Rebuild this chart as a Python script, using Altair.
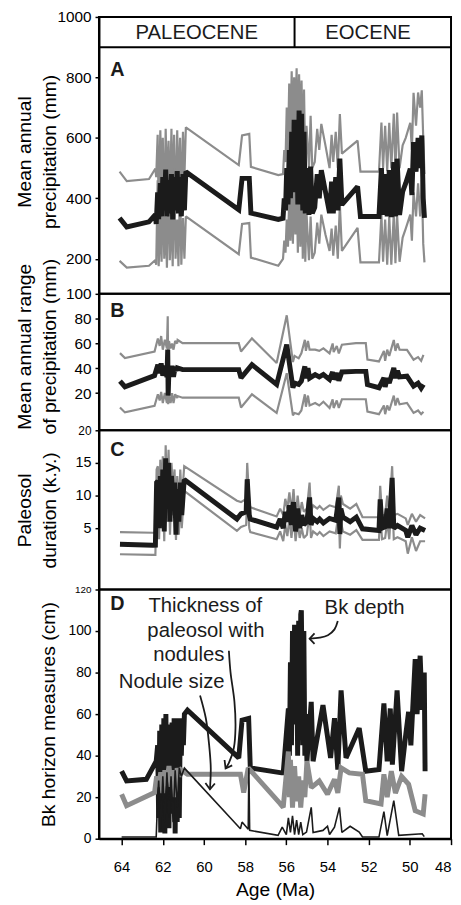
import altair as alt
import pandas as pd

BLACK = "#1b1b1b"
GRAY = "#8c8c8c"
FONT = "Liberation Sans"

AGE_DOMAIN = [65.1, 48.0]
AGE_TICKS = [64, 62, 60, 58, 56, 54, 52, 50, 48]

# ---------------- Panel A : mean annual precipitation (mm) ----------------
A_age = [64.1, 63.75, 62.67, 62.36,
         62.32, 62.25, 62.2, 62.12, 62.06, 62.0, 61.93, 61.86, 61.8, 61.72, 61.66,
         61.58, 61.52, 61.45, 61.38, 61.3, 61.24, 61.16, 61.1, 61.02, 60.95, 60.88,
         58.31, 58.15, 57.8, 57.72, 56.39,
         56.16, 56.1, 56.04, 55.98, 55.92, 55.86, 55.8, 55.74, 55.68, 55.62,
         55.56, 55.5, 55.44, 55.38, 55.32, 55.26, 55.2, 55.14, 55.08, 55.02,
         54.9, 54.82, 54.74, 54.62, 54.5, 54.4, 54.3, 54.1, 53.9, 53.8,
         53.72, 53.6, 53.5, 53.4, 53.3, 52.54, 52.4, 51.5, 51.38, 51.3,
         51.2, 51.1, 51.0, 50.9, 50.78, 50.7, 50.62, 50.5, 50.35, 50.2,
         49.98, 49.9, 49.82, 49.7, 49.6, 49.5, 49.42, 49.35, 49.29]
A_mean = [335, 305, 322, 346,
          315, 420, 330, 450, 340, 470, 360, 495, 340, 460, 350,
          480, 330, 470, 360, 490, 350, 470, 340, 480, 360, 488,
          362, 466, 466, 351, 330,
          334, 400, 360, 500, 380, 560, 400, 620, 420, 660,
          450, 640, 380, 690, 420, 680, 360, 620, 350, 500,
          345, 505, 350, 370, 480, 400, 493, 422, 351, 455,
          350, 470, 360, 531, 379, 439, 340, 340, 500, 345,
          480, 340, 493, 338, 520, 340, 531, 345, 422, 450,
          498, 411, 586, 488, 600, 500, 608, 400, 335]
A_upper = [488, 457, 464, 498,
           470, 610, 360, 625, 420, 600, 340, 630, 450, 590, 380,
           630, 400, 610, 350, 625, 430, 600, 360, 620, 470, 635,
           510, 608, 613, 504, 477,
           480, 560, 520, 700, 560, 780, 600, 820, 620, 800,
           640, 830, 560, 810, 600, 790, 520, 760, 500, 640,
           500, 673, 500, 520, 630, 560, 646, 575, 500, 610,
           520, 620, 500, 679, 548, 591, 488, 488, 651, 500,
           640, 490, 650, 500, 680, 490, 684, 500, 575, 600,
           650, 560, 749, 640, 750, 700, 757, 600, 480]
A_lower = [193, 171, 177, 196,
           180, 460, 175, 330, 190, 480, 200, 340, 170, 470, 195,
           350, 175, 500, 200, 330, 175, 460, 180, 335, 200, 340,
           215, 315, 318, 204, 177,
           200, 260, 220, 330, 240, 400, 260, 430, 250, 480,
           280, 450, 220, 500, 240, 470, 200, 450, 190, 350,
           195, 340, 200, 220, 320, 250, 346, 280, 226, 300,
           210, 310, 200, 380, 226, 302, 188, 188, 346, 190,
           330, 180, 340, 180, 350, 185, 346, 190, 270, 300,
           346, 260, 420, 340, 450, 340, 460, 250, 188]
A_ticks = [200, 400, 600, 800, 1000]

# ---------------- Panel B : mean annual range of precipitation ----------------
B_age = [64.08, 63.84, 62.4, 62.24, 62.15, 62.08, 62.0, 61.9, 61.8, 61.76,
         61.74, 61.7, 61.62, 61.55, 61.48, 61.4, 61.3, 61.28, 61.04, 58.31,
         58.2, 57.67, 56.47, 55.98, 55.68, 55.6, 55.4, 55.27, 55.1, 55.05,
         54.95, 54.87, 54.6, 54.4, 54.2, 53.9, 53.75, 53.7, 53.55, 53.45,
         53.3, 52.62, 52.14, 52.06, 51.5, 51.26, 51.2, 51.1, 51.0, 50.78,
         50.7, 50.6, 50.5, 50.14, 49.82, 49.6, 49.45, 49.34]
B_mean = [29.6, 25.1, 34.1, 42.9, 36, 44, 34, 42, 33, 55,
          18, 40, 34, 42, 33, 41, 38, 40.2, 38.9, 38.9,
          32.3, 42.9, 26.9, 59, 24.3, 28, 27, 29.6, 41.5, 32,
          40, 32, 34.9, 33, 35, 30.9, 37, 31, 36, 30,
          37, 37.5, 37.5, 26.9, 24.3, 32.3, 25, 32, 28, 40.2,
          32, 38, 33, 33.6, 25.6, 28, 24, 26.9]
B_upper = [52.2, 48.2, 53.5, 64, 58, 66, 55, 63, 56, 82,
           40, 62, 56, 60, 55, 62, 60, 62.8, 60.2, 60.2,
           53.5, 64.1, 44.2, 82.7, 45, 50, 48, 52, 63, 54,
           62, 55, 55, 54, 56, 52, 60, 53, 58, 52,
           59, 60.2, 60.2, 47, 45.5, 54, 46, 55, 50, 62.8,
           54, 60, 55, 54.8, 46.9, 49, 46, 50.8]
B_lower = [8.4, 4.4, 9.7, 19, 14, 21, 12, 20, 12, 33,
           11, 18, 12, 20, 12, 19, 16, 17.6, 16.3, 16.3,
           8.4, 19, 4, 36, 2, 4, 3, 6, 19, 9,
           18, 10, 12, 10, 13, 8, 15, 8, 14, 8,
           15, 15, 15, 5, 3, 10, 3, 10, 6, 18,
           10, 16, 11, 12, 4, 6, 3, 5]
B_ticks = [20, 40, 60, 80, 100]

# ---------------- Panel C : paleosol duration (k.y.) ----------------
C_age = [64.08, 62.48, 62.36, 62.3, 62.24, 62.18, 62.12, 62.05, 62.0, 61.93,
         61.86, 61.8, 61.72, 61.65, 61.58, 61.5, 61.43, 61.36, 61.3, 61.22,
         61.15, 61.08, 60.96, 58.4, 58.2, 57.95, 57.9, 57.8, 57.75, 56.47,
         56.3, 56.15, 56.05, 55.95, 55.85, 55.75, 55.65, 55.55, 55.45, 55.35,
         55.25, 55.15, 55.0, 54.87, 54.8, 54.7, 54.5, 54.38, 54.2, 53.9,
         53.6, 53.45, 53.4, 53.35, 53.25, 52.9, 52.6, 52.3, 51.5, 51.44,
         51.35, 51.2, 51.1, 51.0, 50.86, 50.78, 50.6, 50.2, 50.1, 49.9,
         49.7, 49.5, 49.26]
C_mean = [2.53, 2.38, 2.4, 12, 12.2, 5, 13, 7, 14, 4.5,
          15.7, 8, 15, 6, 13, 9, 12, 4, 11, 6,
          12, 7, 12.45, 6.4, 7.2, 7.5, 12.5, 7, 6.4, 5.15,
          6.4, 5, 7.5, 6, 8.5, 5.5, 9, 4.5, 8, 5,
          7, 5.5, 6, 9.7, 5.5, 6.5, 6, 6.4, 5.8, 6.5,
          6.2, 9.7, 4.1, 8, 6.7, 6, 6.7, 4.9, 4.65, 9.4,
          5, 5.2, 8, 5, 12.7, 5, 5.4, 4.65, 3.6, 5.4,
          4.0, 5, 4.65]
C_upper = [4.4, 4.3, 4.3, 14, 14.5, 7, 15.5, 9, 16, 6.5,
           17.7, 10, 17, 8, 15, 11, 14, 6, 13, 8,
           14, 9, 14.5, 9.2, 9, 9.5, 15, 9, 8.2, 6.8,
           8, 7, 9.5, 8, 10.5, 7.5, 11, 6.5, 10, 7,
           9, 7.5, 8, 12, 7.5, 8.5, 8, 8.4, 7.8, 8.5,
           8.2, 11.5, 6, 10, 8.7, 8, 8.7, 6.7, 6.67, 11.5,
           7, 7, 10, 7, 14.5, 7, 7.2, 6.5, 5.5, 7.2,
           6, 7, 6.5]
C_lower = [1.0, 0.9, 0.9, 10, 10, 3.3, 10.5, 5, 11.5, 3,
           13, 6, 12.5, 4, 11, 7, 10, 3.2, 9, 4,
           10, 5, 10.7, 4.6, 5.2, 5.5, 10, 5, 4.4, 3.3,
           4.5, 3, 5.5, 3.8, 6.5, 3.5, 7, 3, 6, 3.5,
           5, 3.5, 4, 7.5, 3.5, 4.5, 4, 4.4, 3.8, 4.5,
           4.2, 7.5, 1.9, 6, 4.5, 4, 4.7, 3.2, 3.2, 7.5,
           3.3, 3.5, 6, 3.3, 10.5, 3.3, 3.6, 3, 1.1, 3.6,
           1.5, 3, 3]
C_ticks = [5, 10, 15, 20]

# ---------------- Panel D : Bk horizon measures (cm) ----------------
BK_age = [64.0, 63.76, 62.8, 62.32, 62.25, 62.2, 62.15, 62.1, 62.05, 62.0,
          61.95, 61.9, 61.85, 61.8, 61.75, 61.7, 61.65, 61.6, 61.55, 61.5,
          61.45, 61.4, 61.35, 61.3, 61.25, 61.2, 61.15, 61.1, 61.05, 61.0,
          60.95, 60.8, 58.31, 58.15, 57.83, 57.75, 56.23, 56.15, 55.9, 55.85,
          55.8, 55.75, 55.7, 55.65, 55.6, 55.55, 55.5, 55.45, 55.4, 55.35,
          55.3, 55.27, 55.2, 55.15, 55.1, 55.05, 55.0, 54.79, 54.7, 54.22,
          53.85, 53.66, 53.5, 53.34, 53.1, 52.46, 52.14, 51.5, 51.26, 51.1,
          50.95, 50.85, 50.62, 50.4, 50.2, 50.06, 49.95, 49.74, 49.65, 49.5,
          49.4, 49.3, 49.26]
BK_depth = [32.5, 27.8, 28.6, 37.3, 45, 10, 52, 3, 55, 8,
            58, 2.5, 60, 15, 55, 5, 50, 20, 56, 12,
            58, 2.5, 55, 8, 58, 10, 57, 40, 58, 45,
            60, 61.9, 38.9, 57.1, 57.9, 34.1, 31.7, 31.7, 62.7, 40,
            85, 45, 100, 55, 103, 60, 95, 40, 105, 50,
            108, 110, 45, 100, 40, 60, 37.3, 65.9, 37.3, 64.3,
            38.9, 58, 33.3, 71.4, 38.9, 53.2, 32.5, 33.3, 65.1, 37.3,
            62.7, 35.7, 71.4, 32.5, 50, 61.1, 45, 86.5, 60, 88.1,
            62, 80, 32.5]
TH_age = [64.0, 63.76, 62.4, 62.3, 62.2, 62.1, 62.0, 61.9, 61.8, 61.7,
          61.6, 61.5, 61.4, 61.3, 61.2, 61.1, 60.8, 58.23, 58.07, 57.85,
          56.31, 56.15, 55.9, 55.85, 55.8, 55.7, 55.6, 55.5, 55.4, 55.3,
          55.2, 55.1, 55.0, 54.79, 54.4, 54.0, 53.66, 53.5, 53.34, 52.94,
          52.3, 52.14, 51.4, 51.26, 51.1, 50.9, 50.7, 50.4, 50.06, 49.74,
          49.35, 49.26]
TH_thick = [21.4, 15.9, 22.2, 30, 25, 32, 22, 33, 28, 35,
            25, 33, 20, 34, 30, 33, 31, 31, 22.2, 34.1,
            17, 15.1, 42, 20, 38, 15, 35, 18, 30, 15,
            28, 20, 37.3, 24.6, 27.8, 21.4, 28.6, 22, 34.1, 31.7,
            31, 18.3, 16.7, 31, 20, 32.5, 22, 30, 26.2, 13.5,
            11.9, 21.4]
ND_age = [64.0, 62.32, 62.25, 62.2, 62.1, 62.0, 61.9, 61.8, 61.7, 61.6,
          61.5, 61.4, 61.3, 61.2, 61.1, 60.95, 58.23, 58.15, 57.85, 57.82,
          57.78, 56.4, 56.2, 56.0, 55.9, 55.8, 55.7, 55.6, 55.5, 55.4,
          55.3, 55.2, 55.02, 54.79, 54.7, 54.22, 54.0, 53.9, 53.66, 53.42,
          53.3, 52.9, 52.46, 52.3, 51.5, 51.26, 51.1, 50.78, 50.54, 49.4,
          49.3]
ND_size = [0.8, 0.8, 20, 28, 5, 30, 8, 32, 10, 30,
           8, 33, 15, 34, 30, 34, 4.8, 8, 4.5, 34,
           4.0, 1.6, 5.6, 2, 10, 3, 11, 2, 9, 2,
           8, 2, 3.2, 15.1, 3, 4, 6, 2, 5.6, 15.1,
           3, 6, 3.2, 0.8, 0.8, 13, 1.5, 18.3, 1.6, 2.4,
           1]
D_ticks = [0, 20, 40, 60, 80, 100, 120]

# ---------------- annotations ----------------
EPOCH_LABELS = ["PALEOCENE", "EOCENE"]
EPOCH_AGE = [60.35, 52.03]
EPOCH_VAL = 945
EPOCH_BOUNDARY = 55.6
HEADER_LINE = 900

LETTER_AGE = 64.55
LETTERS = {"A": 824, "B": 86, "C": 16.9, "D": 112.9}

D_TEXT = ["Thickness of", "paleosol with", "nodules", "Nodule size", "Bk depth"]
D_TEXT_AGE = [62.7, 62.75, 62.46, 64.14, 54.14]
D_TEXT_VAL = [111.9, 100.0, 88.6, 75.2, 111.0]

ARROW_BK_AGE = [53.5, 53.66, 53.98, 54.38, 54.87]
ARROW_BK_VAL = [104.8, 100.8, 98.0, 96.8, 96.3]
HEAD_BK_AGE = [54.63, 54.87, 54.63]
HEAD_BK_VAL = [98.9, 96.3, 93.8]
ARROW_TH_AGE = [58.79, 58.71, 58.52, 58.47, 58.55, 58.79, 58.95]
ARROW_TH_VAL = [90.5, 80.1, 65.9, 53.2, 43.7, 36.5, 33.8]
HEAD_TH_AGE = [59.0, 58.95, 58.63]
HEAD_TH_VAL = [37.9, 33.8, 35.3]
ARROW_ND_AGE = [60.19, 59.91, 59.75, 59.67, 59.71]
ARROW_ND_VAL = [69.0, 58.0, 45.2, 34.1, 23.8]
HEAD_ND_AGE = [59.93, 59.71, 59.47]
HEAD_ND_VAL = [26.8, 23.8, 26.6]

W = 356


def long_frame(ages, series):
    rows = []
    for name, vals in series.items():
        assert len(vals) == len(ages), (name, len(vals), len(ages))
        for i, (a, v) in enumerate(zip(ages, vals)):
            rows.append({"age": a, "value": v, "series": name, "order": i})
    return pd.DataFrame(rows)


def xenc(show):
    if show:
        ax = alt.Axis(values=AGE_TICKS, format="d", title="Age (Ma)",
                      labelFontSize=15, tickSize=6, tickWidth=1.5,
                      tickColor="black", domainColor="black", domainWidth=2,
                      labelPadding=15, titlePadding=6, titleFontSize=19.5,
                      titleFontWeight="normal", grid=False,
                      labelColor="black", titleColor="black")
    else:
        ax = None
    return alt.X("age:Q", scale=alt.Scale(domain=AGE_DOMAIN, nice=False, zero=False),
                 axis=ax)


def yenc(domain, ticks, title, title_x, label_size=15, small=None, small_size=11,
         title_y=None):
    lfs = label_size
    if small is not None:
        lfs = {"condition": {"test": f"datum.value == {small}", "value": small_size},
               "value": label_size}
    kw = dict(values=ticks, title=title, labelFontSize=lfs, tickSize=4, format="d",
              tickWidth=1.5, tickColor="black", domainColor="black",
              domainWidth=2, labelPadding=4, grid=False, labelColor="black",
              titleColor="black", titleFontSize=19.5, titleFontWeight="normal",
              titleAngle=270, titleBaseline="bottom", titleLineHeight=25,
              titleX=title_x, labelOverlap=False)
    if title_y is not None:
        kw["titleY"] = title_y
    return alt.Y("value:Q", scale=alt.Scale(domain=domain, nice=False, zero=False),
                 axis=alt.Axis(**kw))


def lines(df, xe, ye, color, width):
    return alt.Chart(df).mark_line(color=color, strokeWidth=width,
                                   strokeJoin="miter", strokeMiterLimit=2).encode(
        x=xe, y=ye, detail="series:N", order="order:Q")


def letter(name, xe, ye):
    df = pd.DataFrame({"age": [LETTER_AGE], "value": [LETTERS[name]], "label": [name]})
    return alt.Chart(df).mark_text(align="left", baseline="middle", fontSize=20,
                                   fontWeight="bold", color=BLACK).encode(
        x=xe, y=ye, text="label:N")


def gray_black_panel(ages, mean, upper, lower, ye, xe, height, extra=None):
    gray = long_frame(ages, {"upper": upper, "lower": lower})
    blk = long_frame(ages, {"mean": mean})
    layers = [lines(gray, xe, ye, GRAY, 2.2), lines(blk, xe, ye, BLACK, 5)]
    if extra:
        layers += extra
    return alt.layer(*layers).properties(width=W, height=height)


TWO_LINE_X = -65
ONE_LINE_X = -41

# Panel A
xA = xenc(False)
yA = yenc([84, 1000], A_ticks, ["Mean annual", "precipitation (mm)"], TWO_LINE_X,
          label_size=15.5, title_y=136)
head_rule = alt.Chart(pd.DataFrame({"value": [HEADER_LINE]})).mark_rule(
    color="black", strokeWidth=2).encode(y=yA)
div_rule = alt.Chart(pd.DataFrame({"age": [EPOCH_BOUNDARY], "value": [HEADER_LINE],
                                   "value2": [1000]})).mark_rule(
    color="black", strokeWidth=2).encode(x=xA, y=yA, y2="value2:Q")
epochs = alt.Chart(pd.DataFrame({"age": EPOCH_AGE, "value": [EPOCH_VAL] * 2,
                                 "label": EPOCH_LABELS})).mark_text(
    fontSize=20.5, color=BLACK, baseline="middle", align="center").encode(
    x=xA, y=yA, text="label:N")
panelA = gray_black_panel(A_age, A_mean, A_upper, A_lower, yA, xA, 280,
                          extra=[head_rule, div_rule, epochs, letter("A", xA, yA)])

# Panel B
xB = xenc(False)
yB = yenc([-10, 100], B_ticks, ["Mean annual range", "of precipitation (mm)"],
          TWO_LINE_X, label_size=15.5, title_y=53)
panelB = gray_black_panel(B_age, B_mean, B_upper, B_lower, yB, xB, 138,
                          extra=[letter("B", xB, yB)])

# Panel C
xC = xenc(False)
yC = yenc([-4.4, 20], C_ticks, ["Paleosol", "duration (k.y.)"], TWO_LINE_X,
          label_size=14.5, small=20, small_size=12)
panelC = gray_black_panel(C_age, C_mean, C_upper, C_lower, yC, xC, 161,
                          extra=[letter("C", xC, yC)])

# Panel D
xD = xenc(True)
yD = yenc([0, 120], D_ticks, "Bk horizon measures (cm)", ONE_LINE_X,
          label_size=14, small=120, small_size=10)
bk = long_frame(BK_age, {"bk": BK_depth})
th = long_frame(TH_age, {"th": TH_thick})
nd = long_frame(ND_age, {"nd": ND_size})
arrows = pd.concat([
    long_frame(ARROW_BK_AGE, {"a1": ARROW_BK_VAL}),
    long_frame(ARROW_TH_AGE, {"a2": ARROW_TH_VAL}),
    long_frame(ARROW_ND_AGE, {"a3": ARROW_ND_VAL}),
])
heads = pd.concat([
    long_frame(HEAD_BK_AGE, {"h1": HEAD_BK_VAL}),
    long_frame(HEAD_TH_AGE, {"h2": HEAD_TH_VAL}),
    long_frame(HEAD_ND_AGE, {"h3": HEAD_ND_VAL}),
])
arrow_lines = alt.Chart(arrows).mark_line(color=BLACK, strokeWidth=1.8,
                                          interpolate="catmull-rom").encode(
    x=xD, y=yD, detail="series:N", order="order:Q")
head_lines = alt.Chart(heads).mark_line(color=BLACK, strokeWidth=1.8).encode(
    x=xD, y=yD, detail="series:N", order="order:Q")
dtext = alt.Chart(pd.DataFrame({"age": D_TEXT_AGE, "value": D_TEXT_VAL,
                                "label": D_TEXT})).mark_text(
    fontSize=20.5, color=BLACK, align="left", baseline="middle").encode(
    x=xD, y=yD, text="label:N")
panelD = alt.layer(
    lines(bk, xD, yD, BLACK, 5),
    lines(th, xD, yD, GRAY, 5),
    lines(nd, xD, yD, BLACK, 1.6),
    arrow_lines, head_lines, dtext, letter("D", xD, yD),
).properties(width=W, height=252)

chart = alt.vconcat(panelA, panelB, panelC, panelD, spacing=0, bounds="flush").properties(
    padding={"left": 5, "top": -4, "right": 0, "bottom": 0}
).configure(font=FONT).configure_view(stroke="black", strokeWidth=2).configure_axis(
    labelFont=FONT, titleFont=FONT)

chart.save("out.html", embed_options={"renderer": "svg", "actions": False})
